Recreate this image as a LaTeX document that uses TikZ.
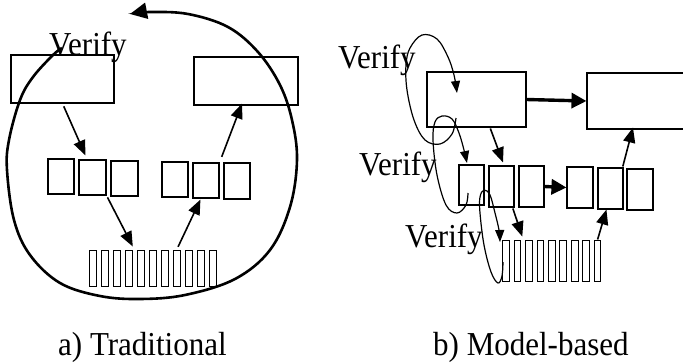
\documentclass[tikz,border=0pt]{standalone}
\usepackage{fontspec}
\setmainfont{Liberation Serif}
\usetikzlibrary{arrows.meta,calc}
\begin{document}
\begin{tikzpicture}[x=1pt,y=-1pt,
  box/.style={draw,line width=1.1pt,inner sep=0pt,fill=white},
  bar/.style={draw,line width=1pt,inner sep=0pt,minimum width=7pt,minimum height=36pt},
  rbar/.style={draw,line width=1pt,inner sep=0pt,minimum width=6.7pt,minimum height=41pt},
  arr/.style={line width=1.6pt,-{Triangle[length=15pt,width=12pt]}},
  thickarr/.style={line width=3.4pt,-{Triangle[length=15pt,width=15pt]}},
  thinarr/.style={line width=1.2pt,-{Triangle[length=12pt,width=9pt]}},
  loop/.style={line width=2.6pt,-{Triangle[length=17pt,width=16pt]}},
  lbl/.style={inner sep=0pt,anchor=base west,yscale=1.08,font=\fontsize{31}{31}\selectfont}]
\useasboundingbox (0,0) rectangle (683,362);
\clip (0,0) rectangle (683,362);
% ---------- a) Traditional ----------
\node[box,minimum width=103pt,minimum height=48pt] (L1) at (62.5,79) {};
\node[box,minimum width=104pt,minimum height=48pt] (L2) at (246,81) {};
\node[box,minimum width=26pt,minimum height=35pt] (s1) at (61,176.5) {};
\node[box,minimum width=27pt,minimum height=35pt] (s2) at (92.5,177.5) {};
\node[box,minimum width=27pt,minimum height=35pt] (s3) at (124.5,178.5) {};
\node[box,minimum width=26pt,minimum height=35pt] (t1) at (175,179.5) {};
\node[box,minimum width=26pt,minimum height=35pt] (t2) at (206,180.5) {};
\node[box,minimum width=26pt,minimum height=36pt] (t3) at (237,181) {};
\foreach \i in {0,...,10}{
  \node[bar] (lb\i) at (92.8+12*\i,268) {};
}
\node[lbl] (v0) at (49,55) {Verify};
\draw[arr,shorten <=3pt] (L1.south) -- ([shift={(7,-4)}]s2.north west);
\draw[arr,shorten <=2pt] (s2.south east) -- ([shift={(0,-3)}]lb3.north east);
\draw[arr,shorten <=3pt] (lb7.north) -- ([shift={(8,1)}]t2.south west);
\draw[arr,shorten <=6pt] (t2.north east) -- ([shift={(-4,-2)}]L2.south);
\draw[loop] plot[smooth,tension=0.6] coordinates {(62,48) (53,55) (33,77) (20,100) (9,140) (7,170) (14,220) (30,255) (60,283) (100,296) (140,299) (185,295) (235,279) (270,250) (290,207) (297,160) (292,120) (280,85) (258,52) (228,27) (188,14) (150,12) (130,14)};
% ---------- b) Model-based ----------
\node[box,minimum width=99pt,minimum height=55pt] (R1) at (476.5,99.5) {};
\node[box,minimum width=100pt,minimum height=56pt] (R2) at (637,101) {};
\node[box,minimum width=25pt,minimum height=40pt] (u1) at (471.5,185) {};
\node[box,minimum width=25pt,minimum height=41pt] (u2) at (501.5,186.5) {};
\node[box,minimum width=25pt,minimum height=41pt] (u3) at (531.5,186.5) {};
\node[box,minimum width=26pt,minimum height=41pt] (v1) at (580,187.5) {};
\node[box,minimum width=25pt,minimum height=41pt] (v2) at (610.5,188.5) {};
\node[box,minimum width=26pt,minimum height=41pt] (v3) at (640,189.5) {};
\foreach \i in {0,...,8}{
  \node[rbar] (rb\i) at (506+11.45*\i,260.5) {};
}
\node[lbl] (v1t) at (338,68) {Verify};
\node[lbl] (v2t) at (359,175) {Verify};
\node[lbl] (v3t) at (405,247) {Verify};
\draw[thickarr] (R1.east) -- (R2.west);
\draw[thickarr] (u3.east) -- (v1.west);
\draw[arr,shorten <=1pt] ([xshift=13.5pt]R1.south) -- ([shift={(1.5,-3)}]u2.north);
\draw[arr,shorten <=1pt] ([xshift=-2pt]u2.south east) -- ([shift={(1,-3)}]rb1.north east);
\draw[arr] (rb8.north) -- ([shift={(9,0)}]v2.south west);
\draw[arr,shorten <=1pt] ([xshift=-1pt]v2.north east) -- ([shift={(-4,-2)}]R2.south);
\draw[thinarr] plot[smooth,tension=0.6] coordinates {(456,118) (452,134) (440,144) (425,140) (414,120) (407,90) (406,65) (410,48) (422,35) (437,39) (448,57) (454,75) (457,93)};
\draw[thinarr] plot[smooth,tension=0.6] coordinates {(468,193) (466,205) (457,213) (446,205) (437,175) (433,140) (435,122) (442,116) (452,119) (459,133) (464,150) (467,163)};
\draw[thinarr] plot[smooth,tension=0.6] coordinates {(503,262) (502,276) (498,283) (491,272) (484,245) (480,213) (480,197) (484,190) (490,195) (495,213) (499,230) (500,242)};
% ---------- captions ----------
\node[lbl] (ca) at (58,355) {a) Traditional};
\node[lbl] (cb) at (433,355) {b) Model-based};
\end{tikzpicture}
\end{document}
